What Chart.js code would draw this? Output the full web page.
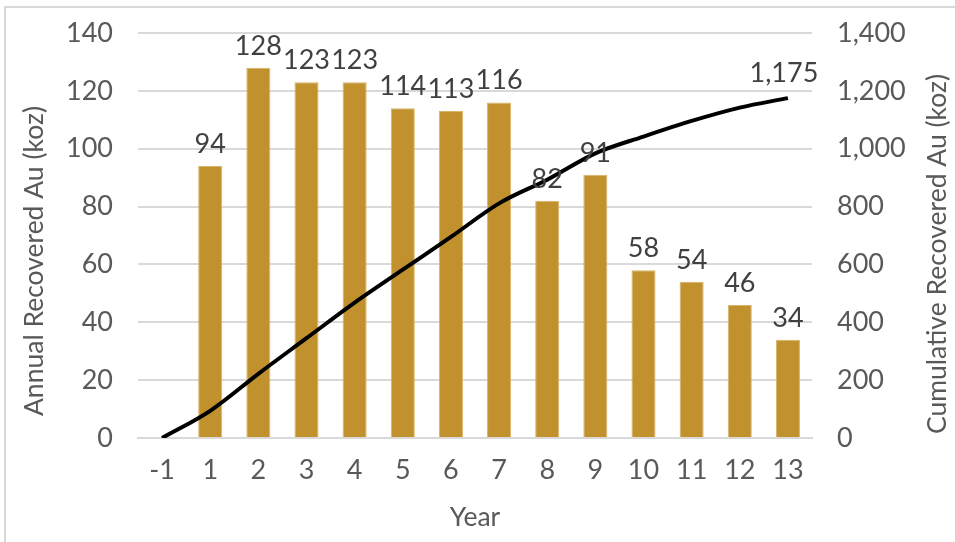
<!DOCTYPE html>
<html>
<head>
<meta charset="utf-8">
<script src="https://cdn.jsdelivr.net/npm/chart.js@4"></script>
<style>
  html, body { margin: 0; padding: 0; background: #fff; }
  #wrap { width: 955px; height: 542px; position: relative; }
</style>
</head>
<body>
<div id="wrap"><canvas id="goldChart"></canvas></div>
<script>
  // data
  var years = ['-1', '1', '2', '3', '4', '5', '6', '7', '8', '9', '10', '11', '12', '13'];
  var annualKoz = [0, 94, 128, 123, 123, 114, 113, 116, 82, 91, 58, 54, 46, 34];
  var cumulativeKoz = [0, 94, 222, 345, 468, 582, 695, 811, 893, 984, 1042, 1096, 1142, 1175];
  var leftTicks = [0, 20, 40, 60, 80, 100, 120, 140];
  var rightTicks = [0, 200, 400, 600, 800, 1000, 1200, 1400];
  var leftTitle = 'Annual Recovered Au (koz)';
  var rightTitle = 'Cumulative Recovered Au (koz)';

  var FONT = 'Lato, "Open Sans", sans-serif';
  var axisGrey = '#595959';

  // frame + the two y axis titles (Excel puts them a bit lower than the plot centre)
  var framePlugin = {
    id: 'frame',
    beforeDraw: function (chart) {
      var ctx = chart.ctx;
      ctx.save();
      ctx.strokeStyle = '#d9d9d9';
      ctx.lineWidth = 2;
      ctx.strokeRect(5, 7, 1200, 900);
      ctx.restore();
    },
    afterDraw: function (chart) {
      var ctx = chart.ctx;
      ctx.save();
      ctx.font = '26.5px ' + FONT;
      ctx.fillStyle = axisGrey;
      ctx.textAlign = 'center';
      ctx.textBaseline = 'middle';
      ctx.translate(34, 261);
      ctx.rotate(-Math.PI / 2);
      ctx.fillText(leftTitle, 0, 0);
      ctx.restore();

      ctx.save();
      ctx.font = '26.5px ' + FONT;
      ctx.fillStyle = axisGrey;
      ctx.textAlign = 'center';
      ctx.textBaseline = 'middle';
      ctx.translate(937, 254);
      ctx.rotate(-Math.PI / 2);
      ctx.fillText(rightTitle, 0, 0);
      ctx.restore();
    }
  };

  // value labels above the bars and at the end of the line
  var labelPlugin = {
    id: 'valueLabels',
    afterDatasetsDraw: function (chart) {
      var ctx = chart.ctx;
      ctx.save();
      ctx.font = '27px ' + FONT;
      ctx.fillStyle = '#404040';
      ctx.textAlign = 'center';
      ctx.textBaseline = 'alphabetic';
      var bars = chart.getDatasetMeta(0).data;
      bars.forEach(function (bar, i) {
        if (!annualKoz[i]) return;
        ctx.fillText(annualKoz[i], bar.x, bar.y - 13);
      });
      var pts = chart.getDatasetMeta(1).data;
      var last = pts.length - 1;
      ctx.fillText(cumulativeKoz[last].toLocaleString('en-US'), pts[last].x - 4, pts[last].y - 16);
      ctx.restore();
    }
  };

  function fixYAxis(width) {
    return function (scale) {
      scale.width = width;
      scale.paddingTop = 0;
      scale.paddingBottom = 0;
    };
  }

  var ctx = document.getElementById('goldChart').getContext('2d');
  new Chart(ctx, {
    data: {
      labels: years,
      datasets: [
        {
          type: 'bar',
          label: 'Annual Recovered Au',
          data: annualKoz,
          backgroundColor: '#c1912e',
          borderColor: '#d8b36a',
          borderWidth: 1,
          categoryPercentage: 1,
          barPercentage: 0.5,
          yAxisID: 'y',
          order: 2
        },
        {
          type: 'line',
          label: 'Cumulative Recovered Au',
          data: cumulativeKoz,
          borderColor: '#000000',
          borderWidth: 4,
          pointRadius: 0,
          tension: 0.35,
          cubicInterpolationMode: 'monotone',
          yAxisID: 'y1',
          order: 1
        }
      ]
    },
    options: {
      responsive: true,
      maintainAspectRatio: false,
      animation: false,
      layout: { padding: { top: 33, right: 0, bottom: 0, left: 0 } },
      plugins: {
        legend: { display: false },
        tooltip: { enabled: false }
      },
      scales: {
        x: {
          grid: { display: false, drawTicks: false },
          border: { color: '#d9d9d9', width: 2 },
          ticks: { color: axisGrey, font: { family: FONT, size: 27 }, padding: 16, maxRotation: 0 },
          title: { display: true, text: 'Year', color: axisGrey, font: { family: FONT, size: 26.5 }, padding: { top: 0, bottom: 9 } },
          afterFit: function (scale) { scale.height = 104; }
        },
        y: {
          position: 'left',
          min: 0,
          max: 140,
          afterBuildTicks: function (scale) {
            scale.ticks = leftTicks.map(function (v) { return { value: v }; });
          },
          grid: { color: '#d9d9d9', lineWidth: 2, drawTicks: false },
          border: { display: false },
          ticks: { color: axisGrey, font: { family: FONT, size: 27 }, padding: 25 },
          afterFit: fixYAxis(138)
        },
        y1: {
          position: 'right',
          min: 0,
          max: 1400,
          afterBuildTicks: function (scale) {
            scale.ticks = rightTicks.map(function (v) { return { value: v }; });
          },
          grid: { display: false, drawTicks: false },
          border: { display: false },
          ticks: {
            color: axisGrey,
            font: { family: FONT, size: 27 },
            padding: 25,
            callback: function (v) { return Number(v).toLocaleString('en-US'); }
          },
          afterFit: fixYAxis(143)
        }
      }
    },
    plugins: [framePlugin, labelPlugin]
  });
</script>
</body>
</html>
